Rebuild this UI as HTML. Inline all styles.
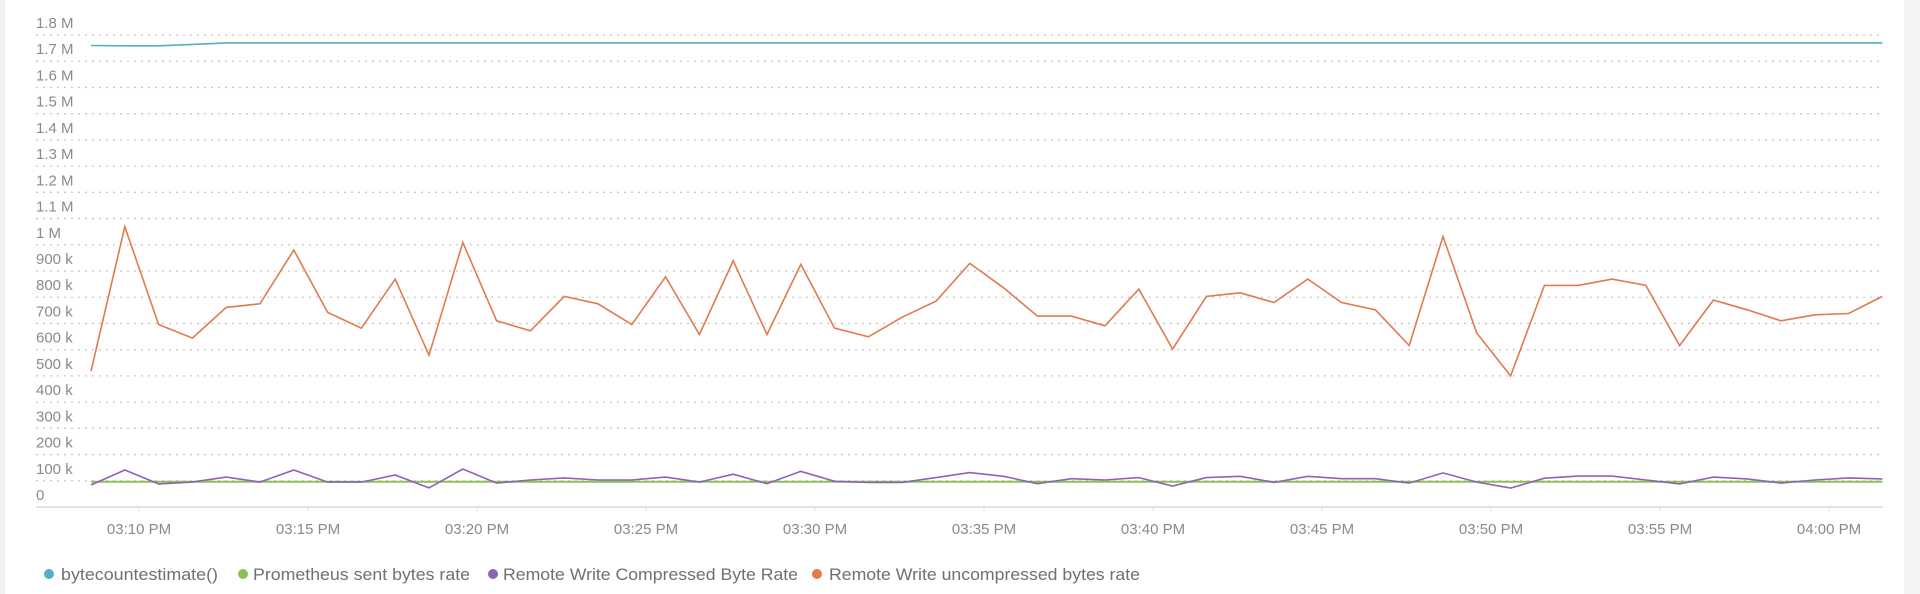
<!DOCTYPE html>
<html><head><meta charset="utf-8"><style>
html,body{margin:0;padding:0;background:#fff;}
body{width:1920px;height:594px;overflow:hidden;position:relative;font-family:"Liberation Sans",sans-serif;}
#lstrip{position:absolute;left:0;top:0;width:5px;height:594px;background:#f1f1f1;}
#rstrip{position:absolute;left:1904px;top:0;width:16px;height:594px;background:#f3f3f3;}
</style></head><body>
<div id="lstrip"></div>
<div id="rstrip"></div>
<svg id="chart" width="1920" height="594" style="position:absolute;left:0;top:0"></svg>
<script>
const yTicks=[0,100e3,200e3,300e3,400e3,500e3,600e3,700e3,800e3,900e3,1e6,1.1e6,1.2e6,1.3e6,1.4e6,1.5e6,1.6e6,1.7e6,1.8e6];
const yTickLabels=["0","100 k","200 k","300 k","400 k","500 k","600 k","700 k","800 k","900 k","1 M","1.1 M","1.2 M","1.3 M","1.4 M","1.5 M","1.6 M","1.7 M","1.8 M"];
const xTicks=[10,15,20,25,30,35,40,45,50,55,60];
const xTickLabels=["03:10 PM","03:15 PM","03:20 PM","03:25 PM","03:30 PM","03:35 PM","03:40 PM","03:45 PM","03:50 PM","03:55 PM","04:00 PM"];
const startMinute=8.58;
const uncompressed=[518,1069,696,644,761,775,980,742,682,869,579,1009,710,672,803,775,696,878,658,939,658,925,682,649,724,785,929,836,728,728,691,831,602,803,817,780,869,780,752,616,1032,663,500,845,845,869,845,616,789,752,710,733,738,803];
const compressed=[84,141,88,95,114,95,141,95,95,122,73,145,91,103,111,103,103,114,95,125,89,136,98,94,94,112,131,117,89,108,103,112,80,112,117,94,117,108,108,91,130,95,72,110,118,118,103,88,114,107,91,103,111,107];
const sentRate=[96,96];
const byteEstimate=[1760,1759,1759,1764,1770,1770,1770,1770];
const series=[
 {name:"bytecountestimate()",color:"#4fb0c6",data:byteEstimate,scale:1000,stretch:true},
 {name:"Prometheus sent bytes rate",color:"#8cc152",data:sentRate,scale:1000,stretch:true},
 {name:"Remote Write Compressed Byte Rate",color:"#8e62b5",data:compressed,scale:1000},
 {name:"Remote Write uncompressed bytes rate",color:"#e07a4f",data:uncompressed,scale:1000}
];
const NS="http://www.w3.org/2000/svg";
const svg=document.getElementById('chart');
const X0=36,X1=1883,Y0=507,Y1=35;
const x=m=>139+(m-10)*33.8;
const y=v=>Y0-(v/1.8e6)*(Y0-Y1);
function mk(t,a){const e=document.createElementNS(NS,t);for(const k in a)e.setAttribute(k,a[k]);svg.appendChild(e);return e;}
yTicks.forEach((v,i)=>{
 if(v>0){const g=mk('line',{x1:X0,x2:X1,y1:y(v),y2:y(v),stroke:'#c8c8c8','stroke-width':1.3,'stroke-dasharray':'2 5'});
 
 }
 const t=mk('text',{x:X0,y:y(v)-7,fill:'#8a8a8a','font-size':15});
 t.textContent=yTickLabels[i];
 
 
});
const ax=mk('line',{x1:X0,x2:X1,y1:Y0,y2:Y0,stroke:'#dcdcdc','stroke-width':1.5});


xTicks.forEach((m,i)=>{
 const tk=mk('line',{x1:x(m),x2:x(m),y1:Y0,y2:Y0+4,stroke:'#dcdcdc'});
 
 
 const t=mk('text',{x:x(m),y:534,fill:'#8a8a8a','font-size':15,'text-anchor':'middle'});
 t.textContent=xTickLabels[i];
 
 
});
series.forEach(s=>{
 const n=s.data.length;
 const pts=s.data.map((v,i)=>{
  const m=s.stretch? (n===2?(i===0?startMinute:startMinute+53):(i<n-1?startMinute+i:startMinute+53)) : startMinute+i;
  return x(m).toFixed(1)+','+y(v*s.scale).toFixed(1);
 }).join(' ');
 const p=mk('polyline',{points:pts,fill:'none',stroke:s.color,'stroke-width':s.name.startsWith('Prometheus')?2:1.6,'stroke-linejoin':'miter'});
 
 
});
const legend=[[49,61,218],[243,253,470],[493,503,798],[817,829,1140]];
series.forEach((s,i)=>{
 const [cx,tx,te]=legend[i];
 const c=mk('circle',{cx:cx,cy:574,r:5,fill:s.color});
 
 
 const t=mk('text',{x:tx,y:580,fill:'#707070','font-size':16.5,textLength:te-tx,lengthAdjust:'spacingAndGlyphs'});
 t.textContent=s.name;
 
 
});
</script>
</body></html>
